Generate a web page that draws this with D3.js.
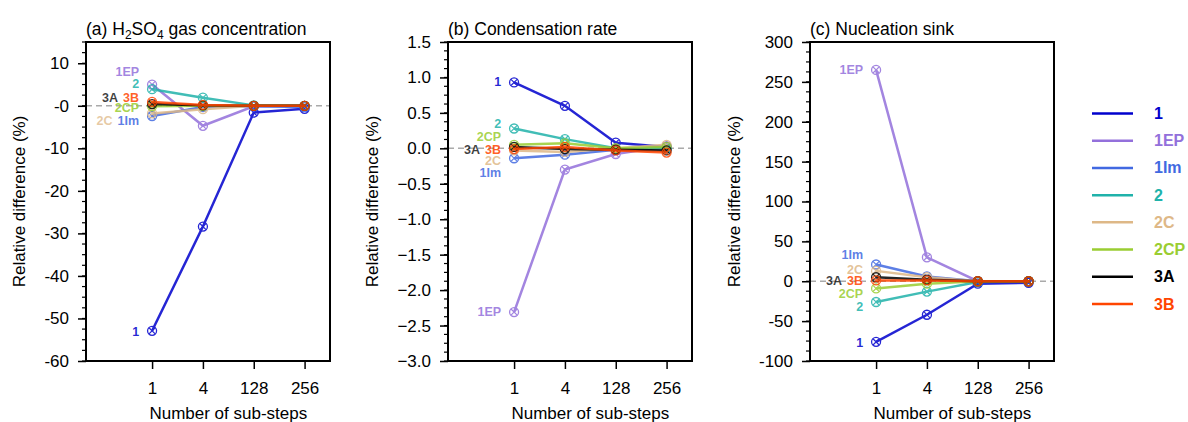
<!DOCTYPE html>
<html><head><meta charset="utf-8">
<script src="https://cdn.jsdelivr.net/npm/d3@7"></script>
<style>
body{margin:0;background:#fff}
svg{font-family:"Liberation Sans",Arial,Helvetica,sans-serif}
</style>
</head><body>
<svg id="chart" width="1188" height="422"></svg>
<script>
// ---------- data ----------
const categories = ["1", "4", "128", "256"];
const seriesNames = ["1", "1EP", "1Im", "2", "2C", "2CP", "3A", "3B"];
const seriesColors = ["#0000CD", "#9370DB", "#4169E1", "#20B2AA", "#DEB887", "#9ACD32", "#000000", "#FF4500"];

// (a) H2SO4 gas concentration, series order as seriesNames
const h2so4Values = [
  [-52.9, -28.4, -1.6, -0.7],
  [5.0, -4.7, -0.1, 0.0],
  [-2.4, -0.3, -0.1, -0.3],
  [3.9, 1.9, 0.1, 0.0],
  [-1.8, -0.8, 0.0, 0.0],
  [-0.1, 0.0, 0.0, 0.0],
  [0.4, 0.1, 0.0, 0.0],
  [0.9, 0.2, 0.0, 0.0]
];
// (b) Condensation rate
const condensationValues = [
  [0.93, 0.60, 0.08, 0.02],
  [-2.31, -0.30, -0.08, 0.03],
  [-0.14, -0.09, -0.02, 0.00],
  [0.28, 0.13, 0.00, 0.00],
  [-0.03, -0.05, 0.00, 0.05],
  [0.05, 0.07, 0.00, 0.02],
  [0.02, -0.01, -0.02, -0.03],
  [-0.01, 0.02, -0.03, -0.06]
];
// (c) Nucleation sink
const nucleationValues = [
  [-76, -42, -3, -2],
  [265, 30, 0, 0],
  [21, 6, 0, 0],
  [-26, -13, -1, 0],
  [13, 5, 0, 0],
  [-9, -3, 0, 0],
  [5, 2, 0, 0],
  [1, 1, 0, 0]
];

const yTicksA = [10, 0, -10, -20, -30, -40, -50, -60];
const yTicksB = [1.5, 1.0, 0.5, 0.0, -0.5, -1.0, -1.5, -2.0, -2.5, -3.0];
const yTicksC = [300, 250, 200, 150, 100, 50, 0, -50, -100];
const yDomains = [[-60, 15], [-3, 1.5], [-100, 300]];
const minorSteps = [2.5, 0.125, 12.5];

// annotation label anchors (value units) at the first category: [seriesIndex, value, column]
const labelAnchorsA = [[1, 7.9, 0], [3, 5.1, 0], [7, 1.8, 0], [6, 1.8, 1], [5, -0.6, 0], [2, -3.6, 0], [4, -3.6, 1], [0, -53.2, 0]];
const labelAnchorsB = [[0, 0.934, 0], [3, 0.34, 0], [5, 0.16, 0], [7, -0.02, 0], [6, -0.02, 1], [4, -0.18, 0], [2, -0.35, 0], [1, -2.31, 0]];
const labelAnchorsC = [[1, 265, 0], [2, 33, 0], [4, 14, 0], [7, 0.4, 0], [6, 0.4, 1], [5, -16, 0], [3, -32, 0], [0, -77, 0]];

// ---------- layout ----------
const panels = [
  {values: h2so4Values, ticks: yTicksA, fmt: d => d === 0 ? "-0" : String(d), labels: labelAnchorsA, left: 86, key: "a"},
  {values: condensationValues, ticks: yTicksB, fmt: d3.format(".1f"), labels: labelAnchorsB, left: 448, key: "b"},
  {values: nucleationValues, ticks: yTicksC, fmt: d => String(d), labels: labelAnchorsC, left: 810, key: "c"}
];
const W = 244, plotTop = 42, plotBottom = 361;
const svg = d3.select("#chart");

panels.forEach((p, pi) => {
  const g = svg.append("g");
  const x = d3.scaleLinear().domain([-1.3, 3.5]).range([p.left, p.left + W]);
  const y = d3.scaleLinear().domain(yDomains[pi]).range([plotBottom, plotTop]);

  // minor ticks
  const [y0, y1] = yDomains[pi];
  const minors = d3.range(y0, y1 + 1e-9, minorSteps[pi]);
  g.append("g").selectAll("line").data(minors).join("line")
    .attr("x1", p.left - 4).attr("x2", p.left)
    .attr("y1", d => y(d)).attr("y2", d => y(d))
    .attr("stroke", "#000").attr("stroke-width", 1.2);

  // y axis major ticks
  const yAx = g.append("g").attr("transform", `translate(${p.left},0)`)
    .call(d3.axisLeft(y).tickValues(p.ticks).tickFormat(p.fmt).tickSize(8).tickPadding(9));
  yAx.select(".domain").remove();
  yAx.selectAll(".tick line").attr("stroke", "#000").attr("stroke-width", 1.5);
  yAx.selectAll(".tick text").attr("font-size", 17).attr("fill", "#000").attr("font-family", "Liberation Sans, Arial, sans-serif");

  // x axis
  const xAx = g.append("g").attr("transform", `translate(0,${plotBottom})`)
    .call(d3.axisBottom(x).tickValues([0, 1, 2, 3]).tickFormat(i => categories[i]).tickSize(8).tickPadding(13));
  xAx.select(".domain").remove();
  xAx.selectAll(".tick line").attr("stroke", "#000").attr("stroke-width", 1.5);
  xAx.selectAll(".tick text").attr("font-size", 17).attr("fill", "#000").attr("font-family", "Liberation Sans, Arial, sans-serif");

  // zero reference line
  g.append("line").attr("x1", p.left).attr("x2", p.left + W)
    .attr("y1", y(0)).attr("y2", y(0))
    .attr("stroke", "#aaa").attr("stroke-width", 1.5).attr("stroke-dasharray", "6,4");

  // series
  const line = d3.line().x((d, i) => x(i)).y(d => y(d));
  p.values.forEach((vals, si) => {
    const col = seriesColors[si];
    const sg = g.append("g").attr("opacity", 0.85);
    sg.append("path").attr("d", line(vals)).attr("fill", "none")
      .attr("stroke", col).attr("stroke-width", 2.5);
    const m = sg.selectAll("g.m").data(vals).join("g")
      .attr("transform", (d, i) => `translate(${x(i)},${y(d)})`);
    m.append("circle").attr("r", 4.5).attr("fill", "none").attr("stroke", col).attr("stroke-width", 1.3);
    m.append("path").attr("d", "M-3.1,-3.1L3.1,3.1M-3.1,3.1L3.1,-3.1").attr("stroke", col).attr("stroke-width", 1.2);
  });

  // annotation labels
  const labelG = g.append("g").attr("font-weight", "bold").attr("font-size", 12.5);
  const rightEdge = x(0) - 13;
  const placed = {};
  p.labels.filter(l => l[2] === 0).forEach(l => {
    const t = labelG.append("text").attr("x", rightEdge).attr("y", y(l[1]))
      .attr("text-anchor", "end").attr("dominant-baseline", "central")
      .attr("fill", seriesColors[l[0]]).attr("fill-opacity", 0.85).text(seriesNames[l[0]]);
    placed[l[1]] = t.node().getComputedTextLength();
  });
  p.labels.filter(l => l[2] === 1).forEach(l => {
    const w = placed[l[1]] || 0;
    labelG.append("text").attr("x", rightEdge - w - 5).attr("y", y(l[1]))
      .attr("text-anchor", "end").attr("dominant-baseline", "central")
      .attr("fill", seriesColors[l[0]]).attr("fill-opacity", 0.75).text(seriesNames[l[0]]);
  });

  // frame
  g.append("rect").attr("x", p.left).attr("y", plotTop).attr("width", W).attr("height", plotBottom - plotTop)
    .attr("fill", "none").attr("stroke", "#000").attr("stroke-width", 2);

  // y title
  let maxW = 0;
  yAx.selectAll(".tick text").each(function() { maxW = Math.max(maxW, this.getComputedTextLength()); });
  const ytx = p.left - 19 - maxW - 17;
  g.append("text").attr("transform", `translate(${ytx},${(plotTop + plotBottom) / 2}) rotate(-90)`)
    .attr("text-anchor", "middle").attr("font-size", 17).text("Relative difference (%)");

  // x title
  g.append("text").attr("x", x(1.5)).attr("y", 419).attr("text-anchor", "middle")
    .attr("font-size", 17).text("Number of sub-steps");

  // panel title
  const tt = g.append("text").attr("x", p.left).attr("y", 35).attr("font-size", 17.5);
  if (p.key === "a") {
    tt.append("tspan").text("(a) H");
    tt.append("tspan").attr("font-size", 12).attr("dy", 4).text("2");
    tt.append("tspan").attr("dy", -4).text("SO");
    tt.append("tspan").attr("font-size", 12).attr("dy", 4).text("4");
    tt.append("tspan").attr("dy", -4).text(" gas concentration");
  } else if (p.key === "b") {
    tt.text("(b) Condensation rate");
  } else {
    tt.text("(c) Nucleation sink");
  }
});

// legend
const legY = d3.scalePoint().domain(seriesNames).range([113.5, 304]);
const leg = svg.append("g");
seriesNames.forEach((n, i) => {
  leg.append("line").attr("x1", 1092).attr("x2", 1133).attr("y1", legY(n)).attr("y2", legY(n))
    .attr("stroke", seriesColors[i]).attr("stroke-width", 2.5);
  leg.append("text").attr("x", 1154).attr("y", legY(n)).attr("dominant-baseline", "central")
    .attr("font-size", 16).attr("font-weight", "bold").attr("fill", seriesColors[i]).text(n);
});
</script>
</body></html>
